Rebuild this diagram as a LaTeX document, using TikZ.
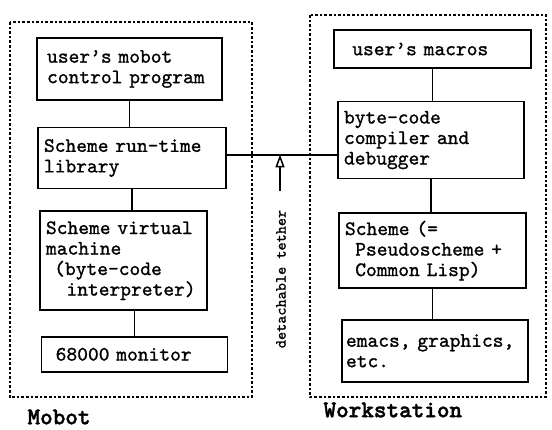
\documentclass[tikz,border=0pt]{standalone}
\usepackage{fontspec}
\newfontfamily\typefont{lmmono10-regular.otf}[FakeBold=1.1]
\newfontfamily\tagfont{lmmonolt10-bold.otf}[FakeBold=1.6]
\usetikzlibrary{positioning,arrows.meta}

\begin{document}
\begin{tikzpicture}[
  x=1pt,y=1pt,
  font=\typefont\fontsize{20.5}{20.5}\selectfont,
  blk/.style={draw,line width=1.6pt,align=left,inner xsep=6pt,inner ysep=2pt},
  zone/.style={line width=1.6pt,dash pattern=on 2.6pt off 2pt},
  link/.style={line width=1.6pt},
  pull/.style={-{Triangle[open,length=13pt,width=9pt,line width=1.5pt]},line width=1.6pt},
  tag/.style={font=\tagfont\fontsize{24}{24}\selectfont,anchor=west},
  side/.style={font=\typefont\fontsize{15.5}{15.5}\selectfont,rotate=90}
]
\useasboundingbox (0,0) rectangle (552,-430);

% mobot column
\node[blk,minimum width=185,minimum height=62,text width=173] (ctrl) at (129.5,-69)
  {\hspace*{0.2em}user’s mobot\\\hspace*{0.2em}control program};
\node[blk,minimum width=188,minimum height=61,text width=176,below=26 of ctrl,xshift=2.5] (lib)
  {Scheme run-time\\library};
\node[blk,minimum width=167,minimum height=99,text width=155,below=21 of lib,xshift=-8.5] (vm)
  {Scheme virtual\\machine\\\hspace*{0.4em}(byte-code\\\hspace*{1em}interpreter)};
\node[blk,minimum width=186,minimum height=35,text width=174,below=25 of vm,xshift=11] (mon)
  {\hspace*{0.4em}68000 monitor};

% workstation column
\node[blk,minimum width=197,minimum height=38,text width=185] (mac) at (432.5,-49)
  {\hspace*{0.6em}user’s macros};
\node[blk,minimum width=186,minimum height=77,text width=174,below=32 of mac,xshift=-1.5] (bcc)
  {byte-code\\compiler and\\debugger};
\node[blk,minimum width=187,minimum height=75,text width=175,below=33 of bcc,xshift=1.5] (pscm)
  {Scheme (=\\\hspace*{0.5em}Pseudoscheme +\\\hspace*{0.5em}Common Lisp)};
\node[blk,minimum width=186,minimum height=62,text width=178,inner xsep=4pt,below=30 of pscm,xshift=2.5] (emx)
  {emacs, graphics,\\etc.};

% enclosures
\draw[zone] (10,-22) rectangle (252,-397);
\draw[zone] (310,-15) rectangle (546,-397);
\node[tag] (mobot) at (24,-417) {Mobot};
\node[tag] (ws) at (320,-410) {Workstation};

% connections
\draw[link] (ctrl.south) -- (ctrl.south |- lib.north);
\draw[link] (lib.south) -- (lib.south |- vm.north);
\draw[link] (mon.north) -- (mon.north |- vm.south);
\draw[link] (mac.south) -- (mac.south |- bcc.north);
\draw[link] (bcc.south) -- (bcc.south |- pscm.north);
\draw[link] (pscm.south) -- (pscm.south |- emx.north);

% tether
\draw[link] ([yshift=3]lib.east) coordinate (tl) -- (tl -| bcc.west);
\coordinate (tip) at (280,-154.5);
\coordinate (tail) at (280,-191);
\draw[pull] (tail) -- (tip);
\node[side] (tlabel) at (281,-279) {detachable tether};
\end{tikzpicture}
\end{document}
